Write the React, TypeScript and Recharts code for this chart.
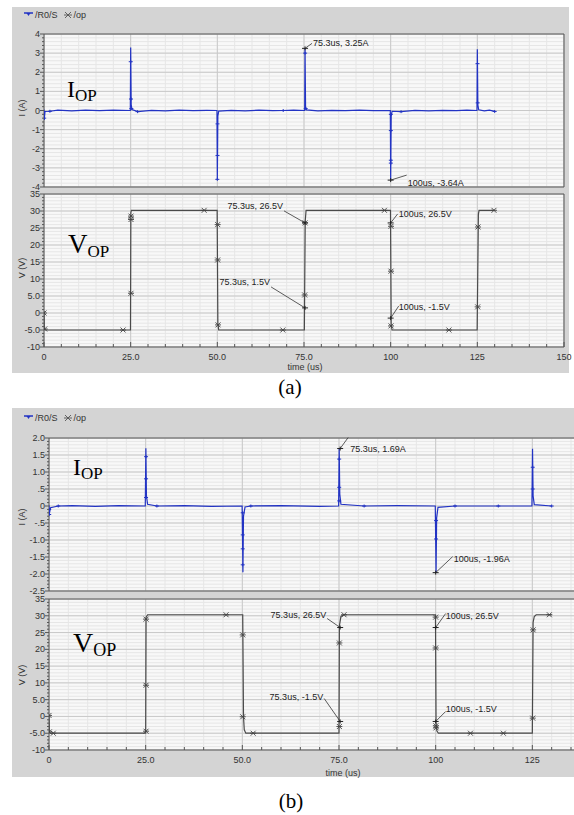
import React from 'react';
import { ComposedChart, Line, Scatter, XAxis, YAxis, CartesianGrid, ReferenceArea, ReferenceDot } from 'recharts';

// grid / tick helpers
const range = (a: number, b: number, s: number) => {
  const out: number[] = [];
  for (let v = a; v <= b + 1e-9; v += s) out.push(+v.toFixed(4));
  return out;
};

const timeTicks = [0, 25, 50, 75, 100, 125, 150];
const timeLabels = ['0', '25.0', '50.0', '75.0', '100', '125', '150'];
const timeMinor = range(0, 150, 5);

const aITicks = [-4, -3, -2, -1, 0, 1, 2, 3, 4];
const aILabels = ['-4', '-3', '-2', '-1', '0', '1', '2', '3', '4'];
const aIMinor = range(-4, 4, 0.2);

const vTicks = [-10, -5, 0, 5, 10, 15, 20, 25, 30, 35];
const vLabels = ['-10', '-5.0', '0', '5.0', '10', '15', '20', '25', '30', '35'];
const vMinor = range(-10, 35, 1);

const bITicks = [-2.5, -2, -1.5, -1, -0.5, 0, 0.5, 1, 1.5, 2];
const bILabels = ['-2.5', '-2.0', '-1.5', '-1.0', '-.5', '0', '.5', '1.0', '1.5', '2.0'];
const bIMinor = range(-2.5, 2, 0.1);

// (a) /R0/S current [t us, A]
const aCurrent = [
  [0, 0.05], [0.05, -0.5], [0.3, -0.05], [1.7, -0.04], [4, 0.02], [8, -0.02], [12, 0.02], [16, -0.01], [20, 0.02], [24.9, 0],
  [25.0, 3.3], [25.15, 0.3], [25.4, 0.05], [27, -0.06], [31, 0.01], [35, -0.02], [39, 0.02], [43, -0.01], [47, 0.01], [49.9, 0],
  [50.0, -3.6], [50.15, -0.3], [50.4, -0.03], [54, 0.01], [58, -0.02], [62, 0.02], [66, -0.01], [69, 0], [72, 0.02], [75.2, 0],
  [75.3, 3.25], [75.45, 0.2], [75.7, 0.03], [79, -0.02], [83, 0.01], [87, -0.01], [91, 0.02], [95, -0.01], [99.9, 0],
  [100, -3.64], [100.15, -0.3], [100.4, -0.04], [103, -0.06], [107, 0.01], [111, -0.02], [115, 0.01], [119, -0.01], [122, 0.02], [124.9, 0],
  [125, 3.2], [125.15, 0.3], [125.4, 0.04], [127, -0.02], [128.5, 0.02], [130, -0.05],
];
const aCurrentMarks = [
  [0.05, -0.4], [1.7, -0.04], [25.02, 2.55], [25.1, 0.6], [25.2, 0.1], [27, -0.06], [50.05, -0.7], [50.05, -2.35], [50.0, -3.6],
  [69, 0], [75.32, 3.0], [75.5, 0.1], [100.05, -0.2], [100.05, -1.05], [100.05, -2.6], [100.05, -2.75], [103, -0.06],
  [125.05, 2.45], [125.1, 0.4], [130, -0.05],
];
// (a) /op voltage [t us, V]
const aVoltage = [
  [0, 0.6], [0.1, -4.9], [0.5, -5], [24.95, -5], [25.05, 29.5], [25.2, 30.2], [49.95, 30.2], [50.15, -3], [50.4, -5],
  [75.1, -5], [75.35, 27], [75.6, 30.2], [99.95, 30.2], [100.15, -3.5], [100.4, -5], [124.95, -5], [125.3, 29], [125.5, 30.2], [130, 30.2],
];
const aVoltageMarks = [
  [0, 0], [0.2, -4.7], [22.8, -5], [25.1, 5.8], [25.1, 27.5], [25.1, 28.5], [46.2, 30.2], [50.1, 26], [50.1, 15.6], [50.2, -3.5],
  [68.9, -5], [75.2, 5.3], [75.3, 26.5], [98.2, 30.2], [100.1, 25.5], [100.1, 12.3], [100.1, -3.8], [116.8, -5], [125.1, 1.8],
  [125.2, 25.3], [129.8, 30.2],
];

// (b) /R0/S current
const bCurrent = [
  [0, 0.02], [0.05, -0.25], [0.4, -0.05], [2.4, 0], [6, 0.01], [12, -0.01], [18, 0.01], [24.9, 0], [25.05, 1.7], [25.2, 0.3],
  [25.5, 0.05], [27.9, 0], [35, 0.01], [42, -0.01], [49.95, 0], [50.15, -1.95], [50.3, -0.3], [50.7, -0.03], [52.2, 0], [60, 0.01],
  [70, -0.01], [74.9, 0], [75.05, 1.69], [75.2, 0.35], [75.5, 0.05], [81.5, 0], [90, 0.01], [99.9, 0], [100.1, -1.96], [100.25, -0.35],
  [100.6, -0.04], [105, 0], [116.2, 0], [124.9, 0], [125.05, 1.68], [125.2, 0.3], [125.5, 0.04], [130, 0],
];
const bCurrentMarks = [
  [0.05, -0.1], [0.05, -0.25], [2.4, 0], [25.1, 1.45], [25.1, 0.8], [25.1, 0.25], [27.9, 0], [50.1, -0.2], [50.1, -0.85],
  [50.1, -1.26], [50.1, -1.73], [52.2, 0], [75.05, 1.38], [75.05, 0.55], [75.05, 0.15], [81.5, 0], [100.1, -0.43], [100.1, -0.97],
  [105, 0], [116.2, 0], [125.1, 1.14], [125.1, 0.5], [130, 0],
];
// (b) /op voltage
const bVoltage = [
  [0, 0.5], [0.1, -4.9], [0.5, -5], [25.0, -5], [25.1, 29.5], [25.5, 30.3], [50.1, 30.3], [50.3, 0], [50.5, -4], [50.9, -5],
  [75.0, -5], [75.1, 27], [75.5, 29.8], [76.2, 30.3], [99.95, 30.3], [100.1, -2], [100.3, -4.3], [100.7, -5], [125.0, -5],
  [125.2, 28], [125.5, 29.8], [126, 30.3], [130, 30.3],
];
const bVoltageMarks = [
  [0, 0.3], [0.1, -4.6], [1.1, -5], [25.1, -4.4], [25.1, 9.3], [25.1, 29], [45.8, 30.3], [50.1, 24.3], [50.1, -0.1], [52.8, -5],
  [75.1, -3], [75.1, 21.9], [76.3, 30.3], [100, 29.6], [100, 20.4], [100.05, -2.8], [100.1, -3.4], [109, -5], [117.5, -5],
  [125.1, -0.5], [125.2, 25.8], [129.4, 30.3],
];

// cursor annotations
const aCurrentNotes = [
  { t: 75.3, v: 3.25, text: '75.3us, 3.25A' },
  { t: 100, v: -3.64, text: '100us, -3.64A' },
];
const aVoltageNotes = [
  { t: 75.3, v: 26.5, text: '75.3us, 26.5V' },
  { t: 75.3, v: 1.5, text: '75.3us, 1.5V' },
  { t: 100, v: 26.5, text: '100us, 26.5V' },
  { t: 100, v: -1.5, text: '100us, -1.5V' },
];
const bCurrentNotes = [
  { t: 75.3, v: 1.69, text: '75.3us, 1.69A' },
  { t: 100, v: -1.96, text: '100us, -1.96A' },
];
const bVoltageNotes = [
  { t: 75.3, v: 26.5, text: '75.3us, 26.5V' },
  { t: 75.3, v: -1.5, text: '75.3us, -1.5V' },
  { t: 100, v: 26.5, text: '100us, 26.5V' },
  { t: 100, v: -1.5, text: '100us, -1.5V' },
];

// label placement relative to the cursor point (px)
const aCurrentNotePos = [
  { lx: 7, ly: -5, tx: 8, ty: -2, anchor: 'start' },
  { lx: 16, ly: -5, tx: 17, ty: 6, anchor: 'start' },
];
const aVoltageNotePos = [
  { lx: -21, ly: -12, tx: -22, ty: -14, anchor: 'end' },
  { lx: -34, ly: -21, tx: -35, ty: -23, anchor: 'end' },
  { lx: 7, ly: -9, tx: 8, ty: -6, anchor: 'start' },
  { lx: 8, ly: -12, tx: 8, ty: -8, anchor: 'start' },
];
const bCurrentNotePos = [
  { lx: 8, ly: -11, tx: 10, ty: 3, anchor: 'start' },
  { lx: 17, ly: -16, tx: 18, ty: -11, anchor: 'start' },
];
const bVoltageNotePos = [
  { lx: -13, ly: -9, tx: -14, ty: -10, anchor: 'end' },
  { lx: -16, ly: -23, tx: -17, ty: -21, anchor: 'end' },
  { lx: 10, ly: -14, tx: 10, ty: -9, anchor: 'start' },
  { lx: 10, ly: -10, tx: 10, ty: -9, anchor: 'start' },
];

const FONT = '"Liberation Sans", Arial, sans-serif';
const SERIF = '"Liberation Serif", "Times New Roman", serif';
const BLUE = '#2233c4';
const DARK = '#4a4a4a';

const toPts = (arr: number[][]) => arr.map(([t, v]) => ({ t, v }));
const findIdx = (list: number[], v: number) => list.findIndex((m) => Math.abs(m - v) < 1e-6);

function YTick(props: any) {
  const { x, y, payload, majors, labels } = props;
  const i = findIdx(majors, payload.value);
  return (
    <g>
      <line x1={x - (i >= 0 ? 4 : 2)} x2={x} y1={y} y2={y} stroke="#555" strokeWidth={1} />
      {i >= 0 && (
        <text x={x - 4} y={y} dy={3} textAnchor="end" fontSize={9} fontFamily={FONT} fill="#333">
          {labels[i]}
        </text>
      )}
    </g>
  );
}

function XTick(props: any) {
  const { x, y, payload } = props;
  const i = findIdx(timeTicks, payload.value);
  return (
    <g>
      <line x1={x} x2={x} y1={y} y2={y - (i >= 0 ? 5 : 3)} stroke="#555" strokeWidth={1} />
      {i >= 0 && (
        <text x={x} y={y + 13} textAnchor="middle" fontSize={9} fontFamily={FONT} fill="#333">
          {timeLabels[i]}
        </text>
      )}
    </g>
  );
}

function BlueMark({ cx, cy }: any) {
  return (
    <g stroke={BLUE} strokeWidth={1}>
      <line x1={cx - 2} x2={cx + 2} y1={cy} y2={cy} />
      <line x1={cx} x2={cx} y1={cy - 1.5} y2={cy + 1.5} />
    </g>
  );
}

function OpMark({ cx, cy }: any) {
  return (
    <g stroke="#444" strokeWidth={0.9}>
      <line x1={cx - 2.5} x2={cx + 2.5} y1={cy - 2.5} y2={cy + 2.5} />
      <line x1={cx - 2.5} x2={cx + 2.5} y1={cy + 2.5} y2={cy - 2.5} />
      <line x1={cx - 3} x2={cx + 3} y1={cy} y2={cy} />
    </g>
  );
}

function Callout(props: any) {
  const { cx, cy, text, lx, ly, tx, ty, anchor } = props;
  return (
    <g>
      <line x1={cx} y1={cy} x2={cx + lx} y2={cy + ly} stroke="#333" strokeWidth={0.8} />
      <line x1={cx - 3} x2={cx + 3} y1={cy} y2={cy} stroke="#222" strokeWidth={1} />
      <line x1={cx} x2={cx} y1={cy - 2} y2={cy + 2} stroke="#222" strokeWidth={1} />
      <text x={cx + tx} y={cy + ty} textAnchor={anchor} fontSize={9} fontFamily={FONT} fill="#222">
        {text}
      </text>
    </g>
  );
}

interface PlotProps {
  left: number;
  top: number;
  width: number;
  height: number;
  marginTop: number;
  marginRight: number;
  yWidth: number;
  showX: boolean;
  yDomain: [number, number];
  yTicks: number[];
  yLabels: string[];
  yMinor: number[];
  series: number[][];
  marks: number[][];
  color: string;
  width2: number;
  markShape: (p: any) => React.ReactElement;
  notes: { t: number; v: number; text: string }[];
  notePos: { lx: number; ly: number; tx: number; ty: number; anchor: string }[];
}

function Plot(p: PlotProps) {
  return (
    <div style={{ position: 'absolute', left: p.left, top: p.top }}>
      <ComposedChart
        width={p.width}
        height={p.height}
        margin={{ top: p.marginTop, right: p.marginRight, left: 0, bottom: p.showX ? 0 : 6 }}
      >
        <CartesianGrid
          fill="#f8f8f8"
          stroke="#e6e6e6"
          horizontalValues={p.yMinor}
          verticalValues={timeMinor}
        />
        <CartesianGrid fill="none" stroke="#c9c9c9" horizontalValues={p.yTicks} verticalValues={timeTicks} />
        <XAxis
          dataKey="t"
          type="number"
          domain={[0, 150]}
          allowDataOverflow
          ticks={timeMinor}
          interval={0}
          hide={!p.showX}
          height={30}
          tickSize={0}
          tickMargin={0}
          tickLine={false}
          axisLine={false}
          tick={<XTick />}
        />
        <YAxis
          dataKey="v"
          type="number"
          domain={p.yDomain}
          allowDataOverflow
          ticks={p.yMinor}
          interval={0}
          width={p.yWidth}
          tickSize={0}
          tickMargin={0}
          tickLine={false}
          axisLine={false}
          tick={<YTick majors={p.yTicks} labels={p.yLabels} />}
        />
        <ReferenceArea
          x1={0}
          x2={150}
          y1={p.yDomain[0]}
          y2={p.yDomain[1]}
          fill="none"
          stroke="#555"
          strokeWidth={1}
          fillOpacity={0}
        />
        <Line
          data={toPts(p.series)}
          dataKey="v"
          type="linear"
          stroke={p.color}
          strokeWidth={p.width2}
          dot={false}
          isAnimationActive={false}
        />
        <Scatter data={toPts(p.marks)} dataKey="v" shape={p.markShape} isAnimationActive={false} />
        {p.notes.map((n, i) => (
          <ReferenceDot
            key={i}
            x={n.t}
            y={n.v}
            r={3}
            shape={(sp: any) => <Callout cx={sp.cx} cy={sp.cy} text={n.text} {...p.notePos[i]} />}
          />
        ))}
      </ComposedChart>
    </div>
  );
}

function LegendRow({ left, top }: { left: number; top: number }) {
  return (
    <div
      style={{
        position: 'absolute',
        left,
        top,
        fontFamily: FONT,
        fontSize: 9,
        color: '#333',
        display: 'flex',
        alignItems: 'center',
        whiteSpace: 'nowrap',
      }}
    >
      <svg width={10} height={8}>
        <line x1={0} x2={9} y1={2} y2={2} stroke={BLUE} strokeWidth={1.5} />
        <path d="M2.5,2 L6.5,2 L4.5,5 Z" fill={BLUE} />
      </svg>
      <span style={{ marginLeft: 1 }}>/R0/S</span>
      <svg width={10} height={8} style={{ marginLeft: 5 }}>
        <g stroke="#555" strokeWidth={0.9}>
          <line x1={2} x2={8} y1={1} y2={7} />
          <line x1={2} x2={8} y1={7} y2={1} />
          <line x1={1} x2={9} y1={4} y2={4} />
        </g>
      </svg>
      <span style={{ marginLeft: 1 }}>/op</span>
    </div>
  );
}

function BigLabel({ left, top, main, size, sub }: { left: number; top: number; main: string; size: number; sub: number }) {
  return (
    <div style={{ position: 'absolute', left, top, fontFamily: SERIF, fontSize: size, color: '#000', lineHeight: 1 }}>
      {main}
      <span style={{ fontSize: sub, position: 'relative', top: 4 }}>OP</span>
    </div>
  );
}

function AxisTitle({ x, y, text, rotate }: { x: number; y: number; text: string; rotate?: boolean }) {
  return (
    <div
      style={{
        position: 'absolute',
        left: x,
        top: y,
        transform: `translate(-50%, -50%)${rotate ? ' rotate(-90deg)' : ''}`,
        fontFamily: FONT,
        fontSize: 9,
        color: '#333',
        whiteSpace: 'nowrap',
      }}
    >
      {text}
    </div>
  );
}

export default function App() {
  return (
    <div style={{ position: 'absolute', left: 0, top: 0, width: 574, height: 815, overflow: 'hidden', background: '#fff' }}>
      <div style={{ position: 'absolute', left: 12, top: 7, width: 557, height: 366, background: '#d4d4d4' }} />
      <div style={{ position: 'absolute', left: 12, top: 408, width: 562, height: 369, background: '#d4d4d4' }} />

      <LegendRow left={24} top={10} />
      <LegendRow left={24} top={413} />

      <Plot
        left={12} top={30} width={566} height={163} marginTop={4} marginRight={14} yWidth={32} showX={false}
        yDomain={[-4, 4]} yTicks={aITicks} yLabels={aILabels} yMinor={aIMinor}
        series={aCurrent} marks={aCurrentMarks} color={BLUE} width2={1.2}
        markShape={(s: any) => <BlueMark cx={s.cx} cy={s.cy} />}
        notes={aCurrentNotes} notePos={aCurrentNotePos}
      />
      <Plot
        left={12} top={190} width={566} height={187} marginTop={4} marginRight={14} yWidth={32} showX
        yDomain={[-10, 35]} yTicks={vTicks} yLabels={vLabels} yMinor={vMinor}
        series={aVoltage} marks={aVoltageMarks} color={DARK} width2={1.2}
        markShape={(s: any) => <OpMark cx={s.cx} cy={s.cy} />}
        notes={aVoltageNotes} notePos={aVoltageNotePos}
      />
      <Plot
        left={12} top={434} width={621} height={163} marginTop={4} marginRight={4} yWidth={37} showX={false}
        yDomain={[-2.5, 2]} yTicks={bITicks} yLabels={bILabels} yMinor={bIMinor}
        series={bCurrent} marks={bCurrentMarks} color={BLUE} width2={1.2}
        markShape={(s: any) => <BlueMark cx={s.cx} cy={s.cy} />}
        notes={bCurrentNotes} notePos={bCurrentNotePos}
      />
      <Plot
        left={12} top={595} width={621} height={185} marginTop={4} marginRight={4} yWidth={37} showX
        yDomain={[-10, 35]} yTicks={vTicks} yLabels={vLabels} yMinor={vMinor}
        series={bVoltage} marks={bVoltageMarks} color={DARK} width2={1.2}
        markShape={(s: any) => <OpMark cx={s.cx} cy={s.cy} />}
        notes={bVoltageNotes} notePos={bVoltageNotePos}
      />

      <AxisTitle x={22} y={108} text="I (A)" rotate />
      <AxisTitle x={22} y={268} text="V (V)" rotate />
      <AxisTitle x={22} y={517} text="I (A)" rotate />
      <AxisTitle x={22} y={675} text="V (V)" rotate />
      <AxisTitle x={305} y={367} text="time (us)" />
      <AxisTitle x={343} y={773} text="time (us)" />

      <BigLabel left={67} top={77} main="I" size={24} sub={17} />
      <BigLabel left={68} top={231} main="V" size={27} sub={17} />
      <BigLabel left={73} top={455} main="I" size={24} sub={17} />
      <BigLabel left={73} top={629} main="V" size={28} sub={18} />

      <div style={{ position: 'absolute', left: 290, top: 375, transform: 'translateX(-50%)', fontFamily: SERIF, fontSize: 21 }}>
        (a)
      </div>
      <div style={{ position: 'absolute', left: 291, top: 789, transform: 'translateX(-50%)', fontFamily: SERIF, fontSize: 21 }}>
        (b)
      </div>
    </div>
  );
}
